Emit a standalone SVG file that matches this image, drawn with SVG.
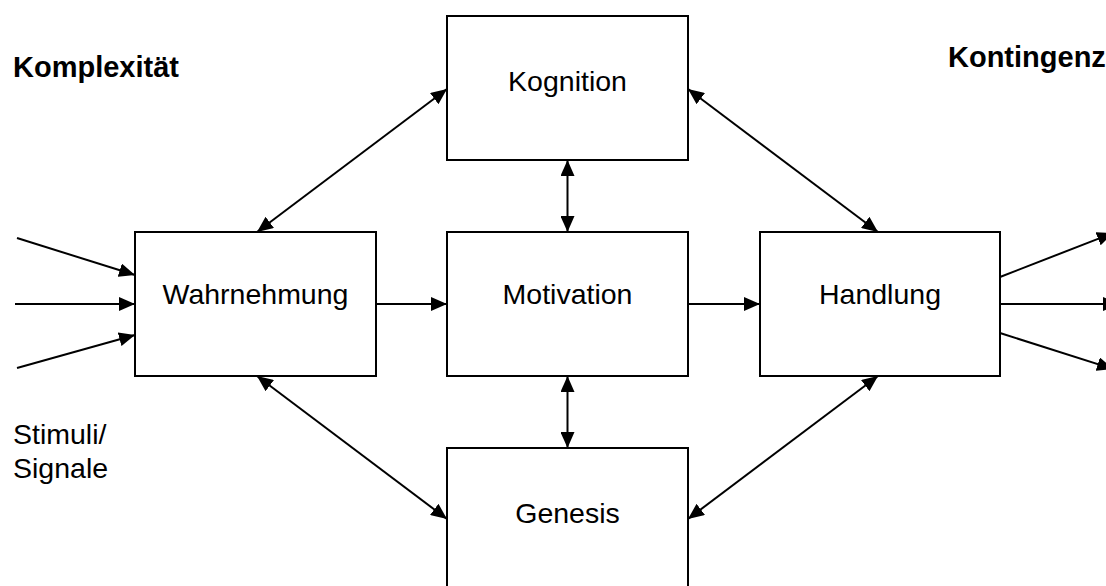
<svg xmlns="http://www.w3.org/2000/svg" width="1106" height="586" viewBox="0 0 1106 586">
  <style>
    .box { fill: #fff; stroke: #000; stroke-width: 2; }
    .lbl { font-family: "Liberation Sans", Arial, sans-serif; font-size: 28.5px; fill: #000; }
    .mid { text-anchor: middle; }
    .hdr { font-weight: bold; font-size: 29px; }
    .conn line { stroke: #000; stroke-width: 2; fill: none; }
    .one line { marker-end: url(#ah); }
    .two line { marker-start: url(#ah); marker-end: url(#ah); }
  </style>
  <defs>
    <marker id="ah" viewBox="0 0 16 14" refX="16" refY="7" markerWidth="16" markerHeight="14" markerUnits="userSpaceOnUse" orient="auto-start-reverse">
      <path d="M0,0 L16,7 L0,14 Z" fill="#000"/>
    </marker>
  </defs>
  <rect width="1106" height="586" fill="#fff"/>

  <!-- free-standing labels -->
  <text class="lbl hdr" x="13" y="77">Komplexität</text>
  <text class="lbl hdr" x="948" y="67">Kontingenz</text>
  <text class="lbl" x="13" y="444">Stimuli/</text>
  <text class="lbl" x="13" y="478">Signale</text>

  <!-- connectors -->
  <g id="connectors" class="conn">
    <g class="one">
      <!-- incoming stimuli -->
      <line x1="17" y1="238" x2="135" y2="275"/>
      <line x1="15" y1="304" x2="135" y2="304"/>
      <line x1="17" y1="368" x2="135" y2="335"/>
      <!-- main flow -->
      <line x1="376" y1="304" x2="447" y2="304"/>
      <line x1="688" y1="304" x2="760" y2="304"/>
      <!-- outgoing actions -->
      <line x1="1000" y1="277" x2="1113" y2="233"/>
      <line x1="1000" y1="304" x2="1119" y2="304"/>
      <line x1="1000" y1="333" x2="1113" y2="369"/>
    </g>
    <g class="two">
      <line x1="567.5" y1="160" x2="567.5" y2="232"/>
      <line x1="567.5" y1="376" x2="567.5" y2="448"/>
      <line x1="257" y1="232" x2="447" y2="89"/>
      <line x1="688" y1="89" x2="878" y2="232"/>
      <line x1="257" y1="376" x2="447" y2="519"/>
      <line x1="688" y1="519" x2="878" y2="376"/>
    </g>
  </g>

  <!-- nodes -->
  <g id="kognition">
    <rect class="box" x="447" y="16" width="241" height="144"/>
    <text class="lbl mid" x="567.5" y="91">Kognition</text>
  </g>
  <g id="wahrnehmung">
    <rect class="box" x="135" y="232" width="241" height="144"/>
    <text class="lbl mid" x="255.5" y="304">Wahrnehmung</text>
  </g>
  <g id="motivation">
    <rect class="box" x="447" y="232" width="241" height="144"/>
    <text class="lbl mid" x="567.5" y="304">Motivation</text>
  </g>
  <g id="handlung">
    <rect class="box" x="760" y="232" width="240" height="144"/>
    <text class="lbl mid" x="880" y="304">Handlung</text>
  </g>
  <g id="genesis">
    <rect class="box" x="447" y="448" width="241" height="150"/>
    <text class="lbl mid" x="567.5" y="523">Genesis</text>
  </g>
</svg>
